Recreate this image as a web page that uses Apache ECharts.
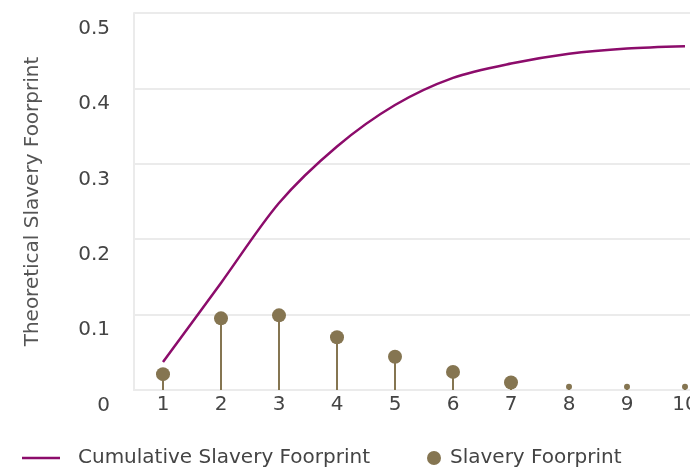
<!DOCTYPE html>
<html>
<head>
<meta charset="utf-8">
<script src="https://cdn.jsdelivr.net/npm/echarts@6/dist/echarts.min.js"></script>
<style>
html,body{margin:0;padding:0;background:#fff;}
#chart{width:690px;height:470px;}
</style>
</head>
<body>
<div id="chart"></div>
<script>
const categories = ['1','2','3','4','5','6','7','8','9','10'];
const cumulative = [0.037, 0.142, 0.248, 0.323, 0.378, 0.414, 0.433, 0.446, 0.453, 0.456];
const footprint = [0.021, 0.095, 0.099, 0.070, 0.044, 0.024, 0.010, 0.0044, 0.0044, 0.0044];
const yTicks = [0, 0.1, 0.2, 0.3, 0.4, 0.5];

const FONT = 'DejaVu Sans';
const FS = 20;
const LINE_COLOR = '#8c0c6b';
const DOT_COLOR = '#857551';
const GRID_COLOR = '#ebebeb';

const chart = echarts.init(document.getElementById('chart'));
chart.setOption({
  animation: false,
  textStyle: { fontFamily: FONT },
  grid: { left: 134, top: 13, bottom: 80, width: 580, outerBoundsMode: 'none', containLabel: false },
  legend: [
    {
      left: 22, top: 448, padding: 0,
      itemWidth: 38, itemHeight: 2.5,
      data: [{ name: 'Cumulative Slavery Foorprint', icon: 'rect' }],
      textStyle: { fontFamily: FONT, fontSize: FS, color: '#444', padding: [0, 0, 0, 13] }
    },
    {
      left: 427, top: 448, padding: 0,
      itemWidth: 14, itemHeight: 14,
      data: [{ name: 'Slavery Foorprint', icon: 'circle' }],
      textStyle: { fontFamily: FONT, fontSize: FS, color: '#444', padding: [0, 0, 0, 4] }
    }
  ],
  xAxis: {
    type: 'category',
    data: categories,
    boundaryGap: true,
    axisLine: { show: true, lineStyle: { color: GRID_COLOR, width: 2 } },
    axisTick: { show: false },
    axisLabel: { fontFamily: FONT, fontSize: FS, color: '#444', margin: 5 },
    splitLine: { show: false }
  },
  yAxis: {
    type: 'value',
    min: yTicks[0], max: yTicks[yTicks.length - 1], interval: 0.1,
    name: 'Theoretical Slavery Foorprint',
    nameLocation: 'middle',
    nameGap: 91,
    nameTextStyle: { fontFamily: FONT, fontSize: FS, color: '#555' },
    axisLine: { show: true, lineStyle: { color: GRID_COLOR, width: 2 } },
    axisTick: { show: false },
    axisLabel: {
      fontFamily: FONT, fontSize: FS, color: '#444', margin: 24,
      verticalAlign: 'top', lineHeight: 31
    },
    splitLine: { show: true, lineStyle: { color: GRID_COLOR, width: 2 } }
  },
  series: [
    {
      name: 'Cumulative Slavery Foorprint',
      type: 'line',
      data: cumulative,
      smooth: 0.3,
      symbol: 'none',
      lineStyle: { color: LINE_COLOR, width: 2.5 },
      itemStyle: { color: LINE_COLOR },
      z: 5
    },
    {
      name: 'stem',
      type: 'bar',
      data: footprint,
      barWidth: 2,
      itemStyle: { color: DOT_COLOR },
      z: 3
    },
    {
      name: 'Slavery Foorprint',
      type: 'scatter',
      data: footprint,
      symbol: 'circle',
      symbolSize: function (v) { return v < 0.005 ? 6 : 14; },
      itemStyle: { color: DOT_COLOR, opacity: 1 },
      z: 4
    }
  ]
});
</script>
</body>
</html>
